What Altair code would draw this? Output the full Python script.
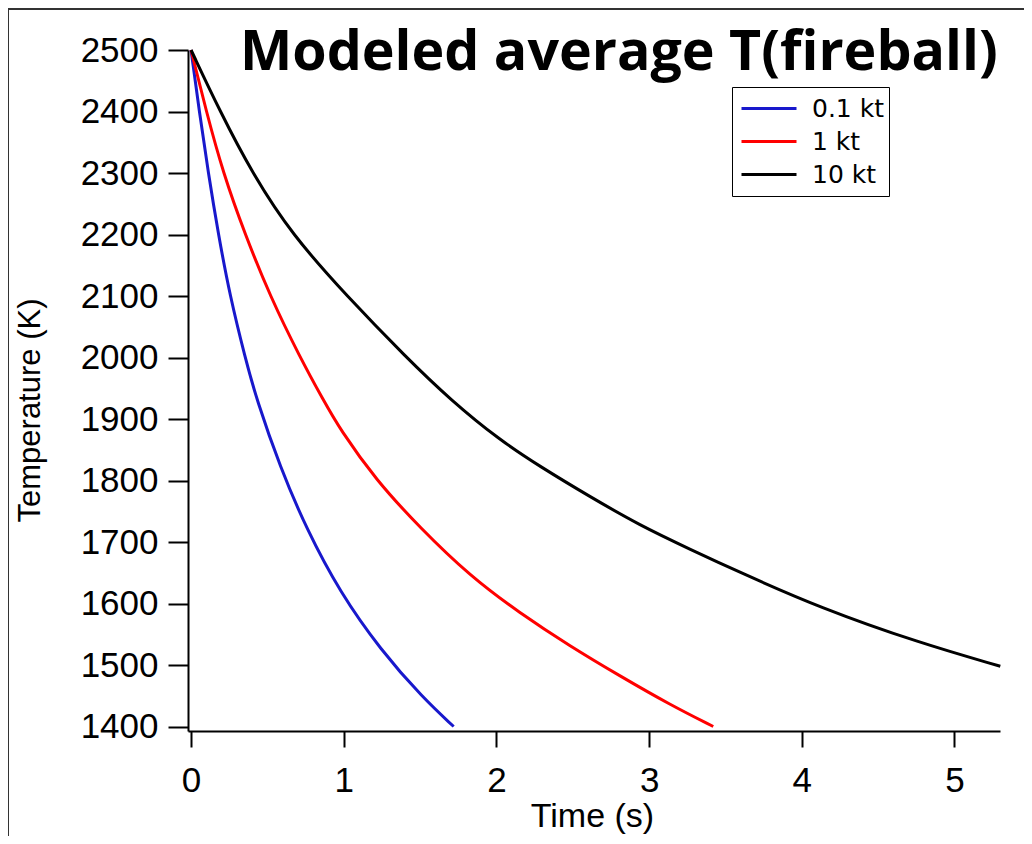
import altair as alt
import pandas as pd

series_names = ["0.1 kt", "1 kt", "10 kt"]
series_colors = ["#1818cc", "#ff0000", "#000000"]

t_01 = [0, 0.054, 0.113, 0.179, 0.255, 0.354, 0.43, 0.583, 0.758, 0.976, 1.24, 1.52, 1.72]
T_01 = [2500, 2400, 2300, 2200, 2100, 2000, 1931, 1822, 1720, 1618, 1525, 1446, 1400]

t_1 = [0, 0.10, 0.21, 0.354, 0.517, 0.714, 0.866, 0.976, 1.21, 1.50, 1.83, 2.15, 2.48, 2.81, 3.14, 3.42]
T_1 = [2500, 2400, 2300, 2200, 2100, 2000, 1931, 1883, 1801, 1723, 1644, 1585, 1531, 1482, 1435, 1400]

t_10 = [0, 0.19, 0.40, 0.66, 1.02, 1.41, 1.70, 2.02, 2.29, 2.61, 2.94, 3.27, 3.60, 4.12, 4.77, 5.30]
T_10 = [2500, 2400, 2300, 2200, 2100, 2000, 1931, 1866, 1822, 1774, 1727, 1688, 1650, 1593, 1536, 1498]

x_ticks = [0, 1, 2, 3, 4, 5]
y_ticks = [1400, 1500, 1600, 1700, 1800, 1900, 2000, 2100, 2200, 2300, 2400, 2500]

title_text = "Modeled average T(fireball)"

rows = []
for name, ts, Ts in zip(series_names, [t_01, t_1, t_10], [T_01, T_1, T_10]):
    for t, T in zip(ts, Ts):
        rows.append({"series": name, "t": t, "T": T})
df = pd.DataFrame(rows)

W, H = 812, 681

lines = alt.Chart(df).mark_line(strokeWidth=3, interpolate="basis").encode(
    x=alt.X(
        "t:Q",
        scale=alt.Scale(domain=[-0.02, 5.298], nice=False, zero=False),
        axis=alt.Axis(
            values=x_ticks, title="Time (s)", grid=False, format="d",
            labelFont="Liberation Sans", labelFontSize=35, labelColor="black",
            labelPadding=16, tickSize=16, tickWidth=2, tickColor="black",
            domainColor="black", domainWidth=2,
            titleFont="Liberation Sans", titleFontSize=34, titleFontWeight="normal",
            titleColor="black", titleX=404, titleY=85, titleBaseline="middle",
            titleAlign="center",
        ),
    ),
    y=alt.Y(
        "T:Q",
        scale=alt.Scale(domain=[1392.7, 2500], nice=False, zero=False),
        axis=alt.Axis(
            values=y_ticks, title="Temperature (K)", grid=False, format="d",
            labelFont="Liberation Sans", labelFontSize=35, labelColor="black",
            labelPadding=10, tickSize=20, tickWidth=2, tickColor="black",
            domainColor="black", domainWidth=2,
            titleFont="Liberation Sans", titleFontSize=31, titleFontWeight="normal",
            titleColor="black", titleAngle=270, titleX=-158, titleY=360,
            titleBaseline="middle", titleAlign="center",
        ),
    ),
    color=alt.Color(
        "series:N",
        scale=alt.Scale(domain=series_names, range=series_colors),
        legend=alt.Legend(
            title=None, orient="none", legendX=544, legendY=37,
            symbolType="stroke", symbolSize=3025, symbolStrokeWidth=3,
            symbolOffset=3, clipHeight=33,
            labelFont="DejaVu Sans", labelFontSize=25, labelColor="black",
            labelOffset=14, padding=5, strokeColor="black", fillColor="white",
            rowPadding=0, cornerRadius=0,
        ),
    ),
)

one = alt.Chart(pd.DataFrame({"k": [0]}))
frame_left = one.mark_rule(color="#333333", strokeWidth=2).encode(
    x=alt.value(-180), y=alt.value(-41), y2=alt.value(840)
)
frame_top = one.mark_rule(color="#333333", strokeWidth=2).encode(
    x=alt.value(-180), x2=alt.value(850), y=alt.value(-41)
)
title = one.mark_text(
    text=title_text, font="Open Sans", fontSize=55.5, fontWeight="bold", color="black",
    align="left", baseline="alphabetic",
).encode(x=alt.value(52), y=alt.value(20))

chart = alt.layer(frame_left, frame_top, lines, title).properties(
    width=W, height=H,
    background="white",
    autosize=alt.AutoSizeParams(type="none"),
    padding={"left": 180, "top": 42, "right": 24, "bottom": 105},
).configure_view(stroke="transparent", strokeWidth=0)

chart.save("out.html", embed_options={"renderer": "svg", "actions": False})
